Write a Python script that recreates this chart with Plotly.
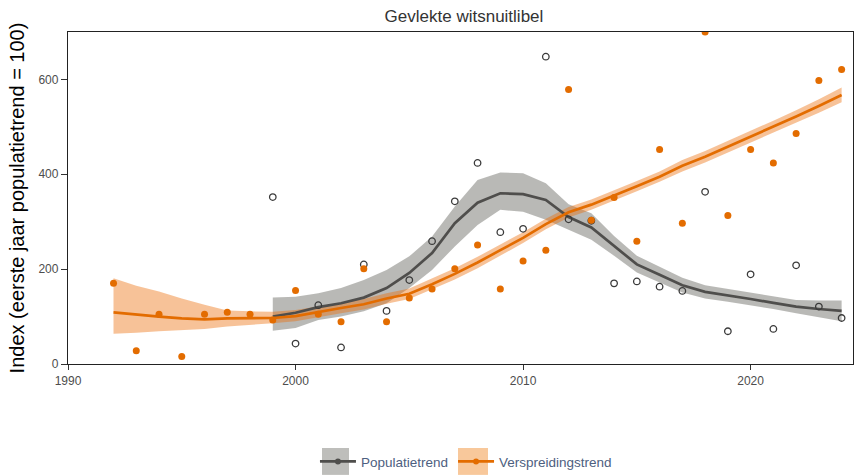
import plotly.graph_objects as go

# ---- data ----
pop_years = list(range(1999, 2025))
pop_index = [352, 43, 124, 35, 210, 112, 177, 259, 343, 424, 278, 285, 648, 305,
             302, 170, 174, 163, 154, 363, 69, 189, 74, 208, 121, 97]
pop_trend = [100, 108, 120, 128, 140, 160, 192, 234, 297, 340, 360, 358, 346, 310,
             288, 248, 210, 188, 166, 152, 145, 137, 129, 121, 116, 112]
pop_low = [70, 76, 93, 100, 111, 128, 160, 198, 248, 293, 325, 321, 304, 283,
           262, 228, 193, 172, 151, 138, 131, 124, 116, 107, 98, 90]
pop_high = [140, 142, 149, 160, 177, 198, 227, 269, 332, 388, 404, 402, 381, 337,
            318, 270, 228, 205, 182, 166, 158, 150, 142, 135, 134, 134]

spr_years = list(range(1992, 2025))
spr_index = [170, 28, 105, 16, 105, 109, 105, 93, 155, 105, 89, 201, 89, 139, 158,
             201, 251, 158, 217, 240, 579, 303, 351, 259, 452, 297, 700, 313, 452,
             424, 486, 598, 621]
spr_trend = [109, 104, 100, 96, 94, 96, 97, 97, 101, 110, 118, 126, 138, 148, 168,
             190, 214, 240, 266, 295, 320, 336, 355, 375, 395, 418, 437, 458, 479,
             500, 522, 544, 567]
spr_low = [64, 66, 69, 72, 74, 79, 83, 86, 90, 99, 107, 115, 127, 137, 157,
           178, 202, 229, 255, 284, 309, 325, 344, 364, 384, 406, 425, 446, 466,
           487, 509, 530, 552]
spr_high = [181, 165, 153, 138, 125, 113, 111, 110, 114, 121, 129, 137, 149, 159, 180,
            202, 226, 252, 278, 306, 331, 347, 366, 386, 406, 430, 449, 470, 492,
            513, 535, 558, 583]

title = "Gevlekte witsnuitlibel"
y_title = "Index (eerste jaar populatietrend = 100)"
x_ticks = [1990, 2000, 2010, 2020]
y_ticks = [0, 200, 400, 600]
legend_names = ["Populatietrend", "Verspreidingstrend"]

GREY_LINE = "#4f4e4c"
GREY_BAND = "rgba(120,120,115,0.52)"
ORANGE = "#e36c00"
ORANGE_BAND = "rgba(235,110,10,0.42)"

fig = go.Figure()

# bands
fig.add_trace(go.Scatter(x=pop_years + pop_years[::-1], y=pop_high + pop_low[::-1],
                         fill="toself", fillcolor=GREY_BAND, line=dict(width=0),
                         mode="lines", showlegend=False, hoverinfo="skip"))
fig.add_trace(go.Scatter(x=spr_years + spr_years[::-1], y=spr_high + spr_low[::-1],
                         fill="toself", fillcolor=ORANGE_BAND, line=dict(width=0),
                         mode="lines", showlegend=False, hoverinfo="skip"))
# trend lines
fig.add_trace(go.Scatter(x=pop_years, y=pop_trend, mode="lines",
                         line=dict(color=GREY_LINE, width=2.7), showlegend=False))
fig.add_trace(go.Scatter(x=spr_years, y=spr_trend, mode="lines",
                         line=dict(color=ORANGE, width=2.7), showlegend=False))
# points
fig.add_trace(go.Scatter(x=pop_years, y=pop_index, mode="markers",
                         marker=dict(symbol="circle-open", size=6.5, color="#3a3a3a",
                                     line=dict(width=1.3)), showlegend=False))
fig.add_trace(go.Scatter(x=spr_years, y=spr_index, mode="markers",
                         marker=dict(symbol="circle", size=7, color=ORANGE),
                         showlegend=False))

# legend entries
fig.add_trace(go.Scatter(x=[None], y=[None], mode="lines+markers", name=legend_names[0],
                         line=dict(color=GREY_LINE, width=2.7),
                         marker=dict(color=GREY_LINE, size=6)))
fig.add_trace(go.Scatter(x=[None], y=[None], mode="lines+markers", name=legend_names[1],
                         line=dict(color=ORANGE, width=2.7),
                         marker=dict(color=ORANGE, size=6)))

# legend key backgrounds (paper coordinates)
key_boxes = [(0.3236, 0.3580, "rgb(190,190,187)"), (0.4968, 0.5350, "rgb(248,200,155)")]
shapes = [dict(type="rect", xref="paper", yref="paper", x0=a, x1=b, y0=-0.334, y1=-0.253,
               fillcolor=c, line=dict(width=0), layer="above") for a, b, c in key_boxes]

fig.update_layout(
    width=857, height=475,
    margin=dict(l=68, r=4, t=32, b=111, autoexpand=False),
    paper_bgcolor="white", plot_bgcolor="white",
    font=dict(family="Liberation Sans, Arial, sans-serif", color="#4d4d4d"),
    title=dict(text=title, x=0.5414, xanchor="center", xref="container",
               y=0.966, yanchor="middle",
               font=dict(size=17, color="#333333")),
    showlegend=True,
    legend=dict(orientation="h", x=0.3146, xanchor="left", y=-0.294, yanchor="middle",
                font=dict(size=13.5, color="#4d6080"), bgcolor="rgba(0,0,0,0)",
                itemwidth=36),
    shapes=shapes,
)
fig.update_xaxes(range=[1990, 2024.5], tickvals=x_ticks, ticks="outside", ticklen=5,
                 tickcolor="#333333", showline=True, linecolor="#222222", linewidth=1.3,
                 mirror=True, showgrid=False, zeroline=False, automargin=False,
                 tickfont=dict(size=12, color="#4d4d4d"))
fig.update_yaxes(range=[0, 700], tickvals=y_ticks, ticks="outside", ticklen=6,
                 tickcolor="#333333", showline=True, linecolor="#222222", linewidth=1.3,
                 mirror=True, showgrid=False, zeroline=False, automargin=False,
                 title=dict(text=y_title, font=dict(size=20, color="#000000"), standoff=8),
                 tickfont=dict(size=12, color="#4d4d4d"))

fig.write_html("out.html", config={"displayModeBar": False},
               post_script="document.body.style.margin='0';")
